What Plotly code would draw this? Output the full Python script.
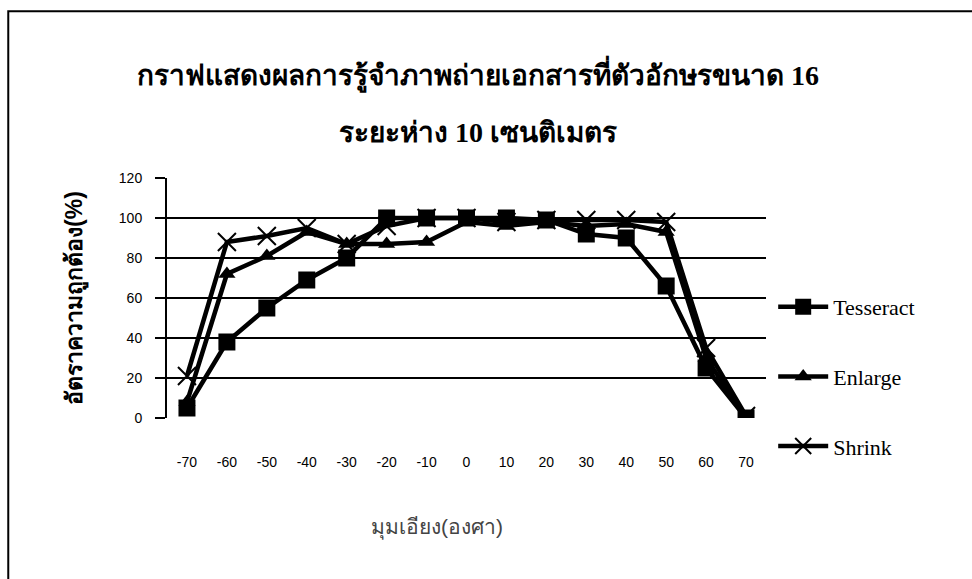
import plotly.graph_objects as go

angles = ["-70", "-60", "-50", "-40", "-30", "-20", "-10", "0", "10", "20", "30", "40", "50", "60", "70"]
tesseract = [5, 38, 55, 69, 80, 100, 100, 100, 100, 99, 92, 90, 66, 25, 0]
enlarge = [8, 72, 81, 93, 87, 87, 88, 98, 96, 98, 96, 97, 93, 30, 0]
shrink = [21, 88, 91, 95, 87, 96, 100, 100, 98, 99, 99, 99, 98, 35, 1]
yticks = [0, 20, 40, 60, 80, 100, 120]

title1 = "กราฟแสดงผลการรู้จำภาพถ่ายเอกสารที่ตัวอักษรขนาด 16"
title2 = "ระยะห่าง 10 เซนติเมตร"
xtitle = "มุมเอียง(องศา)"
ytitle = "อัตราความถูกต้อง(%)"

fig = go.Figure()
fig.add_trace(go.Scatter(x=angles, y=tesseract, name="Tesseract", mode="lines+markers",
                         legendgroup="a",
                         line=dict(color="black", width=4.5),
                         marker=dict(symbol="square", size=17, color="black")))
fig.add_trace(go.Scatter(x=angles, y=enlarge, name="Enlarge", mode="lines+markers",
                         legendgroup="b",
                         line=dict(color="black", width=4.5),
                         marker=dict(symbol="triangle-up", size=15, color="black")))
fig.add_trace(go.Scatter(x=angles, y=shrink, name="Shrink", mode="lines+markers",
                         legendgroup="c",
                         line=dict(color="black", width=4.5),
                         marker=dict(symbol="x-thin-open", size=18, color="black",
                                     line=dict(color="black", width=2))))

fig.update_layout(
    width=972, height=579,
    margin=dict(l=167, r=206, t=178, b=161),
    paper_bgcolor="white", plot_bgcolor="white",
    font=dict(family="Liberation Sans, Arial, sans-serif", color="black"),
    showlegend=True,
    legend=dict(x=1.012, y=0.55, xanchor="left", yanchor="top",
                font=dict(family="Liberation Serif, Times New Roman, serif", size=22, color="black"),
                traceorder="grouped", tracegroupgap=38, itemwidth=50,
                bgcolor="rgba(0,0,0,0)"),
    annotations=[
        dict(text="<b>" + title1 + "</b>", x=0.52, y=1.435, xref="paper", yref="paper",
             xanchor="center", yanchor="middle", showarrow=False,
             font=dict(size=28, family="Liberation Serif, serif", color="black")),
        dict(text="<b>" + title2 + "</b>", x=0.52, y=1.19, xref="paper", yref="paper",
             xanchor="center", yanchor="middle", showarrow=False,
             font=dict(size=28, family="Liberation Serif, serif", color="black")),
        dict(text=xtitle, x=0.45, y=-0.458, xref="paper", yref="paper",
             xanchor="center", yanchor="middle", showarrow=False,
             font=dict(size=21, color="#444444")),
    ],
    shapes=[
        dict(type="rect", xref="paper", yref="paper", x0=-0.265, x1=1.5, y0=-0.9, y1=1.695,
             line=dict(color="black", width=2), fillcolor="rgba(0,0,0,0)", layer="below"),
    ],
)

fig.update_xaxes(type="category", range=[-0.5, 14.5], showgrid=False, showline=False, zeroline=False,
                 ticks="", tickfont=dict(size=14, color="black"), ticklabelstandoff=34)
fig.update_yaxes(range=[0, 120], tickvals=yticks, showgrid=True, gridcolor="black", gridwidth=2,
                 showline=True, linecolor="black", linewidth=2, zeroline=False,
                 ticks="outside", ticklen=10, tickcolor="black", tickwidth=2,
                 tickfont=dict(size=14, color="black"), ticklabelstandoff=10,
                 title=dict(text="<b>" + ytitle + "</b>", font=dict(size=23, color="black"), standoff=30))

fig.write_html("out.html")
